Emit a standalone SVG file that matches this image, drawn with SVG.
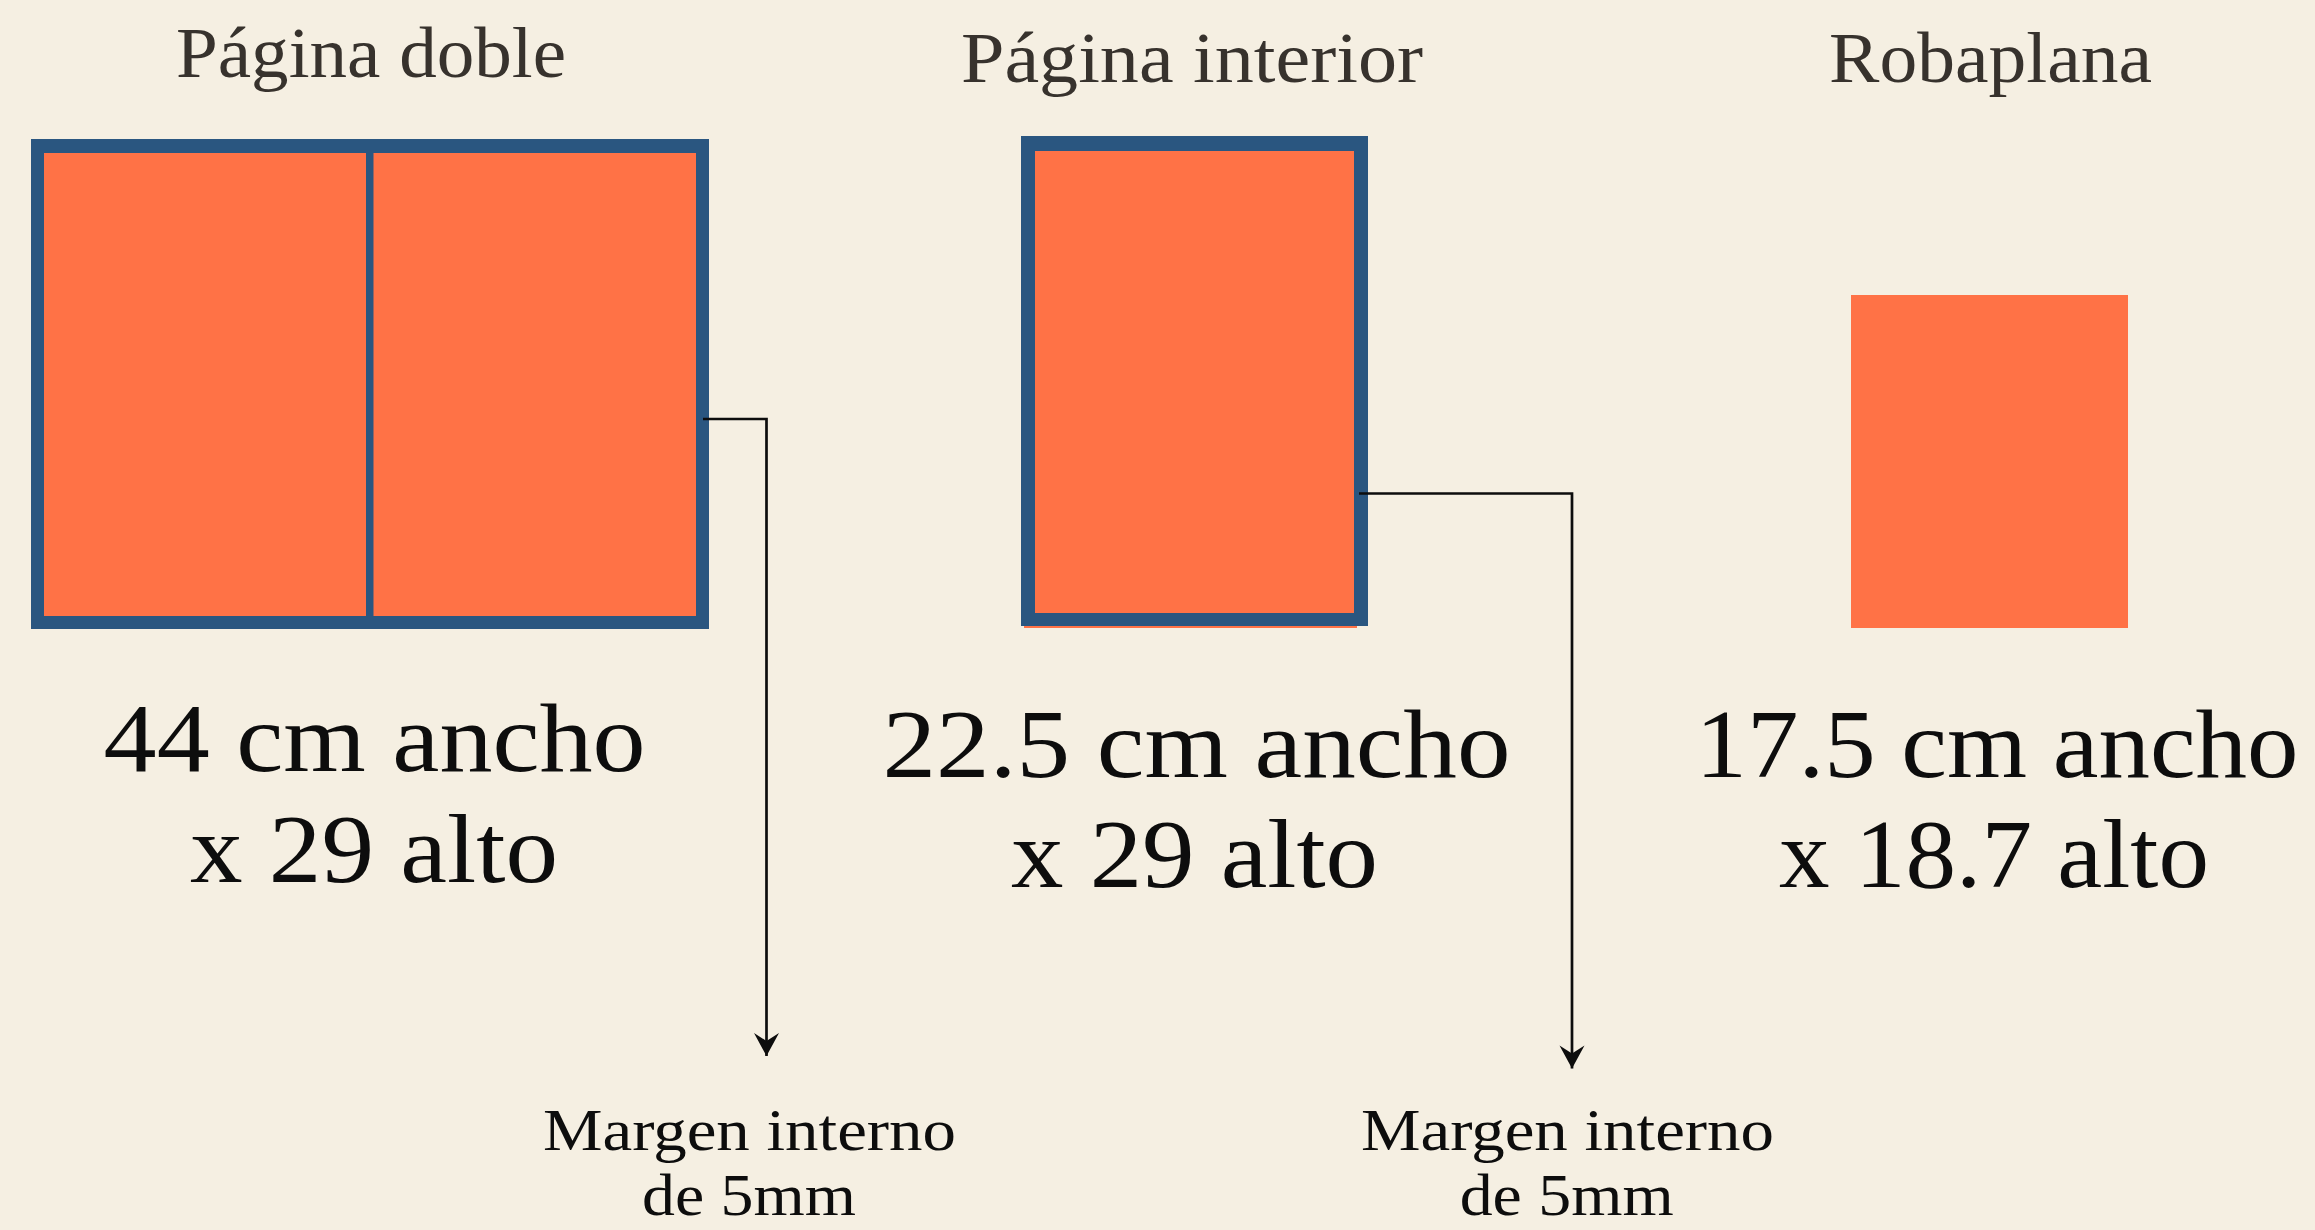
<svg xmlns="http://www.w3.org/2000/svg" width="2315" height="1230" viewBox="0 0 2315 1230">
<style>
.bg{fill:#f5efe2}
.page{fill:#ff7246}
.frame{fill:#2a5680}
.title{font-family:"Liberation Serif","DejaVu Serif",serif;font-size:72px;fill:#37322d;text-anchor:middle}
.dim{font-family:"Liberation Serif","DejaVu Serif",serif;font-size:98px;fill:#0d0d0d;text-anchor:middle}
.note{font-family:"Liberation Serif","DejaVu Serif",serif;font-size:60px;fill:#0d0d0d;text-anchor:middle}
.conn{fill:none;stroke:#0d0d0d;stroke-width:2.7}
</style>
<defs>
<marker id="arrow" markerUnits="userSpaceOnUse" viewBox="-24 -14 26 28" refX="0" refY="0" markerWidth="26" markerHeight="28" orient="auto">
<path d="M0,0 L-23,-12.5 L-15,0 L-23,12.5 Z" fill="#0d0d0d"/>
</marker>
</defs>
<rect class="bg" x="0" y="0" width="2315" height="1230"/>

<g id="pagina-doble">
<text class="title" x="371" y="77" textLength="390" lengthAdjust="spacingAndGlyphs">Página doble</text>
<rect class="frame" x="31" y="139" width="678" height="490"/>
<rect class="page" x="44" y="153" width="322" height="463"/>
<rect class="page" x="373.5" y="153" width="322.5" height="463"/>
<text class="dim" x="374.6" y="771" textLength="542" lengthAdjust="spacingAndGlyphs">44 cm ancho</text>
<text class="dim" x="374" y="882" textLength="368" lengthAdjust="spacingAndGlyphs">x 29 alto</text>
</g>

<g id="pagina-interior">
<text class="title" x="1192" y="82" textLength="462" lengthAdjust="spacingAndGlyphs">Página interior</text>
<rect class="page" x="1024" y="150" width="333" height="478"/>
<rect class="frame" x="1021" y="136" width="347" height="490"/>
<rect class="page" x="1035" y="151" width="319" height="462"/>
<text class="dim" x="1196.5" y="777" textLength="628" lengthAdjust="spacingAndGlyphs">22.5 cm ancho</text>
<text class="dim" x="1194.5" y="887" textLength="367" lengthAdjust="spacingAndGlyphs">x 29 alto</text>
</g>

<g id="robaplana">
<text class="title" x="1990.5" y="82" textLength="323" lengthAdjust="spacingAndGlyphs">Robaplana</text>
<rect class="page" x="1851" y="295" width="277" height="333"/>
<text class="dim" x="1997" y="777" textLength="603" lengthAdjust="spacingAndGlyphs">17.5 cm ancho</text>
<text class="dim" x="1994" y="887" textLength="430" lengthAdjust="spacingAndGlyphs">x 18.7 alto</text>
</g>

<g id="margen-1">
<text class="note" x="749.5" y="1150" textLength="413" lengthAdjust="spacingAndGlyphs">Margen interno</text>
<text class="note" x="749" y="1215" textLength="214" lengthAdjust="spacingAndGlyphs">de 5mm</text>
</g>

<g id="margen-2">
<text class="note" x="1567.5" y="1150" textLength="413" lengthAdjust="spacingAndGlyphs">Margen interno</text>
<text class="note" x="1566.7" y="1215" textLength="214" lengthAdjust="spacingAndGlyphs">de 5mm</text>
</g>

<g id="connectors">
<path class="conn" d="M703,419 H766.5 V1056" marker-end="url(#arrow)"/>
<path class="conn" d="M1359,493.5 H1572 V1068.5" marker-end="url(#arrow)"/>
</g>
</svg>
